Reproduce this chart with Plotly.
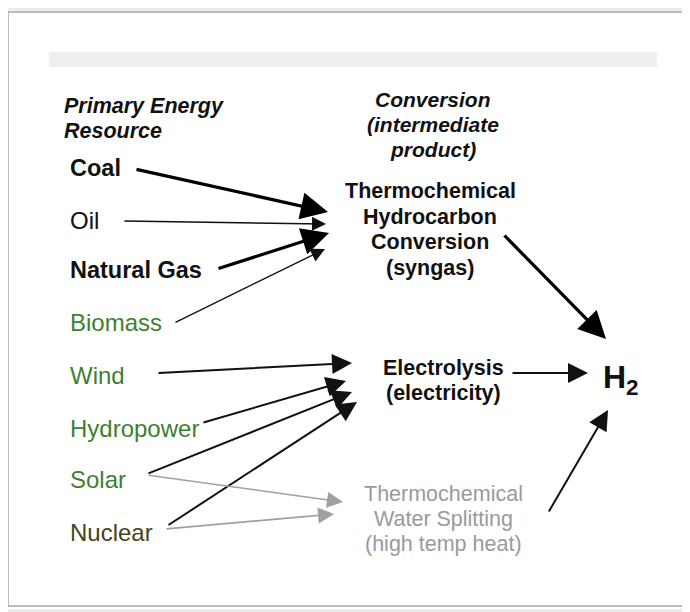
import plotly.graph_objects as go

# ---- data ----
sources = ["Coal", "Oil", "Natural Gas", "Biomass", "Wind", "Hydropower", "Solar", "Nuclear"]
source_bold = [True, False, True, False, False, False, False, False]
source_colors = ["#111111", "#111111", "#111111", "#3f7f30", "#3f7f30", "#3f7f30", "#3f7f30", "#4a4318"]

header_left = ["Primary Energy", "Resource"]
header_mid = ["Conversion", "(intermediate", "product)"]
conv_syngas = ["Thermochemical", "Hydrocarbon", "Conversion", "(syngas)"]
conv_elec = ["Electrolysis", "(electricity)"]
conv_heat = ["Thermochemical", "Water Splitting", "(high temp heat)"]
product = "<b>H<sub>2</sub></b>"

# links: (source, target, weight class)
links = [
    ("Coal", "syngas", "thick"), ("Oil", "syngas", "thin"), ("Natural Gas", "syngas", "thick"),
    ("Biomass", "syngas", "thin"),
    ("Wind", "elec", "mid"), ("Hydropower", "elec", "mid"), ("Solar", "elec", "mid"), ("Nuclear", "elec", "mid"),
    ("Solar", "heat", "grey"), ("Nuclear", "heat", "grey"),
    ("syngas", "H2", "thick"), ("elec", "H2", "mid"), ("heat", "H2", "mid"),
]

# ---- layout geometry (pixel space of the page) ----
src_y = [168, 220, 270, 322, 375, 428, 479, 532]
tails = {
    ("Coal", "syngas"): (135, 169), ("Oil", "syngas"): (123, 221), ("Natural Gas", "syngas"): (217, 269),
    ("Biomass", "syngas"): (174, 323), ("Wind", "elec"): (157, 373), ("Hydropower", "elec"): (202, 423),
    ("Solar", "elec"): (147, 474), ("Nuclear", "elec"): (167, 526), ("Solar", "heat"): (147, 475),
    ("Nuclear", "heat"): (165, 529), ("syngas", "H2"): (503, 234), ("elec", "H2"): (511, 373),
    ("heat", "H2"): (548, 513),
}
heads = {
    ("Coal", "syngas"): (328, 212), ("Oil", "syngas"): (326, 224), ("Natural Gas", "syngas"): (329, 233),
    ("Biomass", "syngas"): (325, 249), ("Wind", "elec"): (352, 363), ("Hydropower", "elec"): (346, 381),
    ("Solar", "elec"): (352, 392), ("Nuclear", "elec"): (357, 402), ("Solar", "heat"): (343, 502),
    ("Nuclear", "heat"): (334, 514), ("syngas", "H2"): (606, 339), ("elec", "H2"): (588, 373),
    ("heat", "H2"): (608, 410),
}
styles = {"thick": ("#000000", 3.2), "thin": ("#111111", 1.4), "mid": ("#111111", 2.0), "grey": ("#a0a0a0", 1.6)}

fig = go.Figure()
ann = []
FONT = "Liberation Sans, Arial, sans-serif"


def block(lines, x, y0, step, anchor, size, color, fmt="{}"):
    for i, line in enumerate(lines):
        ann.append(dict(x=x, y=y0 + i * step, text=fmt.format(line), showarrow=False, xanchor=anchor,
                        yanchor="middle", font=dict(family=FONT, size=size, color=color)))


block(header_left, 62, 106, 25, "left", 21.5, "#111", "<i><b>{}</b></i>")
block(header_mid, 433, 99, 25, "center", 21, "#111", "<i><b>{}</b></i>")

for name, b, c, y in zip(sources, source_bold, source_colors, src_y):
    t = f"<b>{name}</b>" if b else name
    ann.append(dict(x=68, y=y, text=t, showarrow=False, xanchor="left", yanchor="middle",
                    font=dict(family=FONT, size=23.5 if b else 24, color=c)))

block(conv_syngas, 430, 191, 25.5, "center", 21.5, "#111", "<b>{}</b>")
block(conv_elec, 443, 368, 25, "center", 21.5, "#111", "<b>{}</b>")
block(conv_heat, 443, 494, 25, "center", 21.5, "#9a9a9a")

ann.append(dict(x=621, y=379, text=product, showarrow=False, xanchor="center", yanchor="middle",
                font=dict(family=FONT, size=32, color="#111")))

for s, t, w in links:
    (ax_, ay_), (hx, hy) = tails[(s, t)], heads[(s, t)]
    col, wd = styles[w]
    ann.append(dict(x=hx, y=hy, ax=ax_, ay=ay_, xref="x", yref="y", axref="x", ayref="y", text="",
                    showarrow=True, arrowhead=2, arrowsize=2.0 if wd < 3 else 1.7, arrowwidth=wd,
                    arrowcolor=col, standoff=0))

shapes = [
    dict(type="rect", x0=5, y0=9, x1=760, y1=611, line=dict(color="#ececec", width=4), fillcolor="rgba(0,0,0,0)", layer="below"),
    dict(type="rect", x0=8, y0=12, x1=760, y1=606, line=dict(color="#a8a8a8", width=1.5), fillcolor="white", layer="below"),
    dict(type="rect", x0=49, y0=52, x1=657, y1=67, line=dict(width=0), fillcolor="#efefef", layer="below"),
]

# the page body adds an 8px offset, so the axes ranges start at 8 to keep page pixels == data units
fig.update_layout(
    width=690, height=612, margin=dict(l=0, r=0, t=0, b=0),
    paper_bgcolor="white", plot_bgcolor="white",
    xaxis=dict(range=[8, 698], visible=False, fixedrange=True),
    yaxis=dict(range=[620, 8], visible=False, fixedrange=True),
    annotations=ann, shapes=shapes, showlegend=False,
)
fig.write_html("out.html")
